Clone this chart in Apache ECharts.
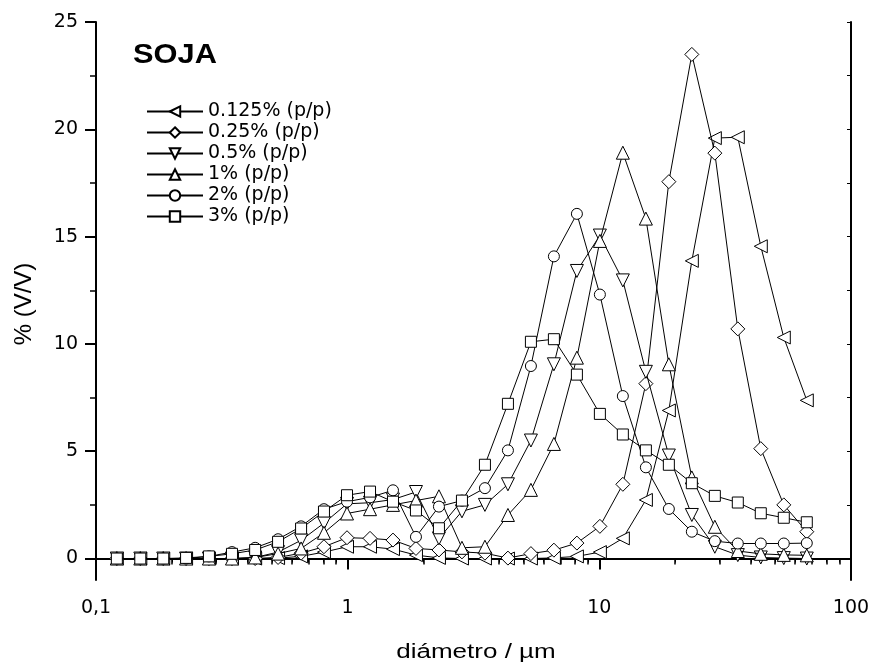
<!DOCTYPE html>
<html>
<head>
<meta charset="utf-8">
<script src="https://cdn.jsdelivr.net/npm/echarts@6/dist/echarts.min.js"></script>
<style>
  html, body { margin: 0; padding: 0; background: #fff; }
  #chart { width: 874px; height: 666px; }
</style>
</head>
<body>
<div id="chart"></div>
<script>
// Particle size distribution of soybean emulsions, % volume per size class
const diameters = [0.121, 0.150, 0.185, 0.228, 0.281, 0.347, 0.429, 0.529, 0.653, 0.805,
  0.994, 1.227, 1.514, 1.868, 2.305, 2.845, 3.511, 4.333, 5.347, 6.599,
  8.144, 10.05, 12.40, 15.31, 18.89, 23.31, 28.77, 35.50, 43.81, 54.07, 66.73];

const seriesNames = ['0.125% (p/p)', '0.25% (p/p)', '0.5% (p/p)', '1% (p/p)', '2% (p/p)', '3% (p/p)'];

const conc0125 = [0, 0, 0, 0, 0, 0, 0, 0.02, 0.1, 0.3,
  0.55, 0.55, 0.44, 0.16, 0.03, 0, 0, 0, 0, 0.03,
  0.1, 0.3, 0.94, 2.73, 6.9, 13.87, 19.59, 19.63, 14.55, 10.3, 7.37];

const conc025 = [0, 0, 0, 0, 0, 0, 0, 0.05, 0.25, 0.55,
  0.97, 0.94, 0.86, 0.47, 0.4, 0.31, 0.25, 0.02, 0.23, 0.39,
  0.72, 1.5, 3.46, 8.15, 17.56, 23.49, 18.89, 10.7, 5.12, 2.5, 1.25];

const conc05 = [0, 0, 0, 0, 0, 0, 0.05, 0.3, 0.85, 1.65,
  2.55, 2.6, 2.75, 3.1, 0.94, 2.2, 2.5, 3.46, 5.5, 9.05,
  13.4, 15.05, 12.96, 8.7, 4.8, 2.03, 0.55, 0.16, 0.05, 0.02, 0];

const conc1 = [0, 0, 0, 0, 0, 0, 0.05, 0.23, 0.47, 1.2,
  2.1, 2.3, 2.5, 2.7, 2.9, 0.5, 0.55, 2.03, 3.2, 5.34,
  9.36, 14.8, 18.91, 15.84, 9.05, 3.78, 1.48, 0.35, 0.22, 0.17, 0.15];

const conc2 = [0, 0, 0, 0, 0.1, 0.3, 0.5, 0.9, 1.5, 2.3,
  2.65, 2.85, 3.18, 1.01, 2.42, 2.7, 3.28, 5.04, 8.97, 14.08,
  16.06, 12.3, 7.57, 4.25, 2.31, 1.25, 0.81, 0.7, 0.7, 0.7, 0.72];

const conc3 = [0, 0, 0, 0.03, 0.1, 0.22, 0.4, 0.78, 1.4, 2.19,
  2.95, 3.12, 2.65, 2.24, 1.41, 2.7, 4.37, 7.21, 10.1, 10.22,
  8.57, 6.74, 5.78, 5.04, 4.37, 3.51, 2.92, 2.61, 2.11, 1.9, 1.69];

const xMajorTicks = [0.1, 1, 10, 100];
const xMinorTicks = [0.2, 0.3, 0.4, 0.5, 0.6, 0.7, 0.8, 0.9,
  2, 3, 4, 5, 6, 7, 8, 9, 20, 30, 40, 50, 60, 70, 80, 90];
const yMajorTicks = [0, 5, 10, 15, 20, 25];
const yMinorTicks = [2.5, 7.5, 12.5, 17.5, 22.5];

const allValues = [conc0125, conc025, conc05, conc1, conc2, conc3];
const markers = [
  { symbol: 'triangle', rotate: 90, size: 13 },
  { symbol: 'diamond', rotate: 0, size: 14 },
  { symbol: 'triangle', rotate: 180, size: 13 },
  { symbol: 'triangle', rotate: 0, size: 13 },
  { symbol: 'circle', rotate: 0, size: 11 },
  { symbol: 'rect', rotate: 0, size: 11 }
];

const SANS = 'Liberation Sans, Arial, Helvetica, sans-serif';
const WIDE = 'DejaVu Sans, Verdana, sans-serif';
const black = '#000';

const series = seriesNames.map((name, i) => ({
  name: name,
  type: 'line',
  xAxisIndex: 0,
  yAxisIndex: 0,
  data: diameters.map((d, k) => [d, allValues[i][k]]),
  symbol: markers[i].symbol,
  symbolRotate: markers[i].rotate,
  symbolSize: markers[i].size,
  showAllSymbol: true,
  lineStyle: { color: black, width: 1 },
  itemStyle: { color: '#fff', borderColor: black, borderWidth: 1 },
  emphasis: { disabled: true },
  animation: false,
  z: 2 + i
}));

const option = {
  backgroundColor: '#fff',
  animation: false,
  grid: { left: 96, right: 23, top: 22, bottom: 86 },
  legend: {
    orient: 'vertical',
    left: 141,
    top: 97,
    itemWidth: 56,
    itemHeight: 13,
    itemGap: 2,
    textStyle: { fontFamily: WIDE, fontSize: 19, color: black },
    data: seriesNames,
    selectedMode: false
  },
  xAxis: [
    {
      type: 'log', logBase: 10, min: 0.1, max: 100,
      position: 'bottom',
      axisLine: { show: true, lineStyle: { color: black, width: 2 } },
      axisTick: { show: true, inside: false, length: 11, customValues: xMajorTicks, lineStyle: { color: black, width: 2 } },
      axisLabel: {
        show: true, margin: 19, customValues: xMajorTicks,
        fontFamily: WIDE, fontSize: 19, color: black,
        formatter: v => String(v).replace('.', ',')
      },
      splitLine: { show: false }
    },
    {
      type: 'log', logBase: 10, min: 0.1, max: 100,
      position: 'bottom',
      axisLine: { show: false },
      axisTick: { show: true, inside: false, length: 6, customValues: xMinorTicks, lineStyle: { color: black, width: 1.5 } },
      axisLabel: { show: false },
      splitLine: { show: false }
    },
    {
      type: 'log', logBase: 10, min: 0.1, max: 100,
      position: 'top',
      axisLine: { show: true, lineStyle: { color: black, width: 2 } },
      axisTick: { show: true, inside: true, length: 4, customValues: xMajorTicks.concat(xMinorTicks), lineStyle: { color: black, width: 1 } },
      axisLabel: { show: false },
      splitLine: { show: false }
    }
  ],
  yAxis: [
    {
      type: 'value', min: -1, max: 25,
      position: 'left',
      axisLine: { show: true, lineStyle: { color: black, width: 2 } },
      axisTick: { show: true, inside: false, length: 11, customValues: yMajorTicks, lineStyle: { color: black, width: 2 } },
      axisLabel: { show: true, margin: 18, customValues: yMajorTicks, fontFamily: WIDE, fontSize: 19, color: black },
      splitLine: { show: false }
    },
    {
      type: 'value', min: -1, max: 25,
      position: 'left',
      axisLine: { show: false },
      axisTick: { show: true, inside: false, length: 6, customValues: yMinorTicks, lineStyle: { color: black, width: 1.5 } },
      axisLabel: { show: false },
      splitLine: { show: false }
    },
    {
      type: 'value', min: -1, max: 25,
      position: 'right',
      axisLine: { show: true, lineStyle: { color: black, width: 2 } },
      axisTick: { show: true, inside: true, length: 4, customValues: yMajorTicks.concat(yMinorTicks), lineStyle: { color: black, width: 1 } },
      axisLabel: { show: false },
      splitLine: { show: false }
    }
  ],
  graphic: [
    {
      type: 'text',
      x: 133, y: 55,
      scaleX: 1.1,
      style: { text: 'SOJA', font: 'bold 28px ' + SANS, fill: black, textVerticalAlign: 'middle' }
    },
    {
      type: 'text',
      x: 476, y: 652,
      scaleX: 1.3,
      style: { text: 'diámetro / µm', font: '20px ' + SANS, fill: black, textAlign: 'center', textVerticalAlign: 'middle' }
    },
    {
      type: 'text',
      x: 24, y: 304,
      rotation: Math.PI / 2,
      style: { text: '% (V/V)', font: '24px ' + SANS, fill: black, textAlign: 'center', textVerticalAlign: 'middle' }
    }
  ],
  series: series
};

const chart = echarts.init(document.getElementById('chart'), null, { renderer: 'canvas' });
chart.setOption(option);
</script>
</body>
</html>
